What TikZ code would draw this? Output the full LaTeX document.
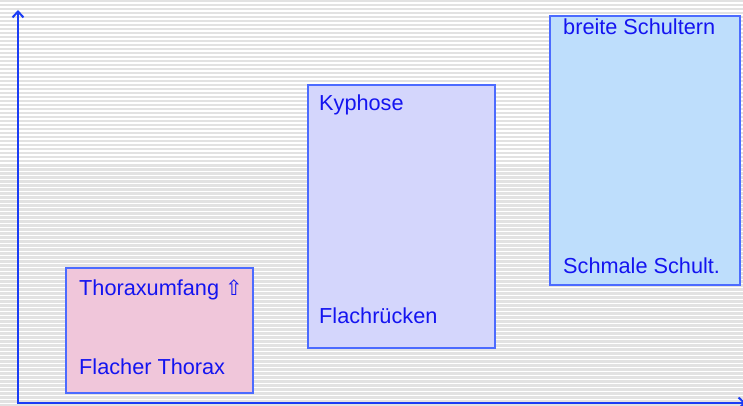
\documentclass[tikz,border=0pt]{standalone}
\usepackage{fontspec}
\setmainfont{Liberation Sans}
\newfontfamily\symfont{DejaVu Sans}
\usetikzlibrary{arrows.meta}
\definecolor{axisblue}{HTML}{1A3CF5}
\definecolor{boxedge}{HTML}{4C6BFF}
\definecolor{txtblue}{HTML}{1414F0}
\definecolor{bggray}{HTML}{E2E2E2}
\definecolor{pinkfill}{HTML}{F0C6DA}
\definecolor{lavfill}{HTML}{D4D6FC}
\definecolor{skyfill}{HTML}{BEDEFC}
\tikzset{
  panel/.style={draw=boxedge, line width=1.2pt},
  lbl/.style={anchor=base west, inner sep=0pt, text=txtblue, font=\fontsize{21.7}{24}\selectfont},
  axisline/.style={draw=axisblue, line width=2.4pt, -{Straight Barb[length=6pt,width=11pt,line width=2pt]}}
}
\begin{document}
\begin{tikzpicture}[x=1pt,y=-1pt]
\useasboundingbox (0,0) rectangle (743,406);
\fill[bggray] (0,0) rectangle (743,406);
\foreach \k in {0,...,101} {
  \fill[white] (0,{4*\k+2.5}) rectangle (743,{4*\k+4});
}
% boxes
\path[panel, fill=pinkfill] (66,268) rectangle (253,393);
\path[panel, fill=lavfill] (308,85) rectangle (495,348);
\path[panel, fill=skyfill] (550,16) rectangle (740,285);
% labels
\node[lbl] (t1) at (79,295) {Thoraxumfang {\symfont\fontsize{21}{24}\selectfont ⇧}};
\node[lbl] (t2) at (79,374) {Flacher Thorax};
\node[lbl] (t3) at (319,111) {Kyphose};
\node[lbl] (t4) at (319,323) {Flachrücken};
\node[lbl] (t5) at (563,35) {breite Schultern};
\node[lbl] (t6) at (563,273) {Schmale Schult.};
% axes
\coordinate (o) at (18,403);
\coordinate (ytop) at (18,10);
\coordinate (xend) at (746,403);
\draw[axisline] (o) -- (ytop);
\draw[axisline] ([xshift=-1.2pt]o) -- (xend);
\end{tikzpicture}
\end{document}
